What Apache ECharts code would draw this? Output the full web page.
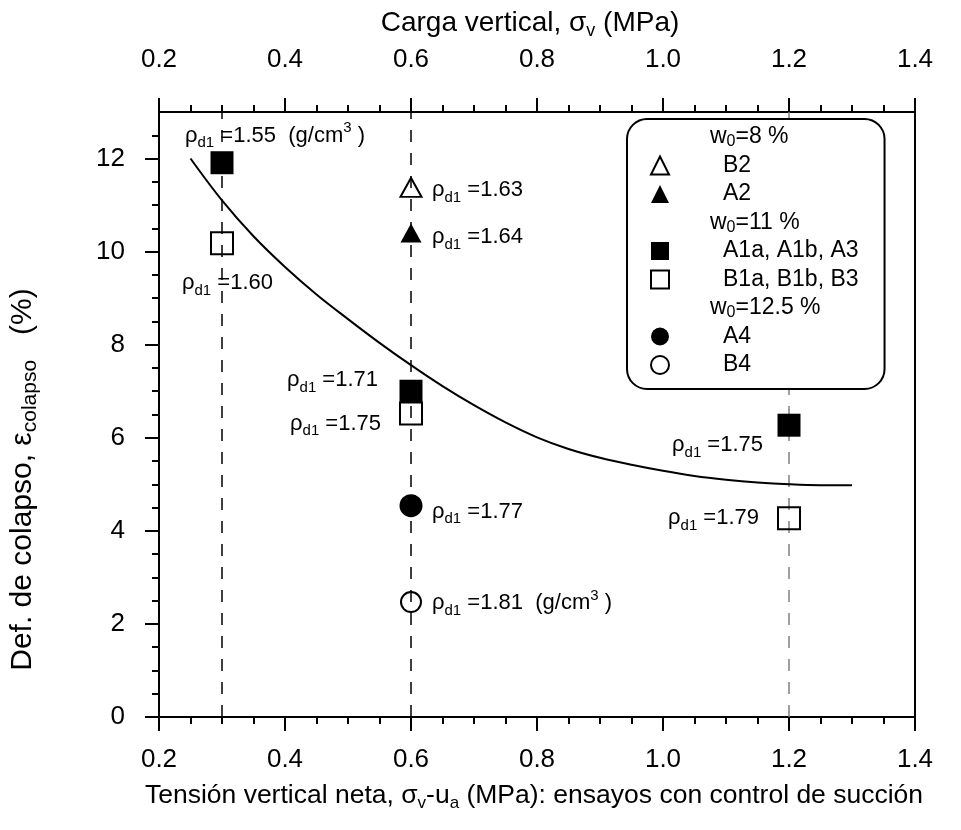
<!DOCTYPE html>
<html><head><meta charset="utf-8">
<script src="https://cdn.jsdelivr.net/npm/echarts@6/dist/echarts.min.js"></script>
<style>html,body{margin:0;padding:0;background:#fff}#c{width:961px;height:830px}</style>
</head><body><div id="c"></div>
<script>
const FONT = '"Liberation Sans", Arial, Helvetica, sans-serif';

// ---- axes / ticks ----
const xMin = 0.2, xMax = 1.4, xStep = 0.2;
const yMin = 0, yMax = 13;
const yMajorTicks = [0, 2, 4, 6, 8, 10, 12];
const yMinorTicks = [0.5, 1, 1.5, 2.5, 3, 3.5, 4.5, 5, 5.5, 6.5, 7, 7.5, 8.5, 9, 9.5, 10.5, 11, 11.5, 12.5];
const dashedX = [0.3, 0.6, 1.2];

// ---- data (w0 = 8 %) ----
const xB2 = [0.6], yB2 = [11.38], rhoB2 = ['1.63'], unitB2 = [0];
const xA2 = [0.6], yA2 = [10.40], rhoA2 = ['1.64'], unitA2 = [0];
// ---- data (w0 = 11 %) ----
const xA1 = [0.3, 0.6, 1.2], yA1 = [11.91, 7.00, 6.27], rhoA1 = ['1.55', '1.71', '1.75'], unitA1 = [1, 0, 0];
const xB1 = [0.3, 0.6, 1.2], yB1 = [10.18, 6.52, 4.27], rhoB1 = ['1.60', '1.75', '1.79'], unitB1 = [0, 0, 0];
// ---- data (w0 = 12.5 %) ----
const xA4 = [0.6], yA4 = [4.54], rhoA4 = ['1.77'], unitA4 = [0];
const xB4 = [0.6], yB4 = [2.47], rhoB4 = ['1.81'], unitB4 = [1];
// ---- fitted curve ----
const curveX = [0.25, 0.30, 0.35, 0.40, 0.45, 0.50, 0.55, 0.60, 0.65, 0.70, 0.75, 0.80, 0.85, 0.90, 0.95, 1.00, 1.05, 1.10, 1.15, 1.20, 1.25, 1.30];
const curveY = [12.00, 11.10, 10.33, 9.67, 9.08, 8.55, 8.04, 7.56, 7.11, 6.70, 6.33, 6.01, 5.76, 5.57, 5.42, 5.29, 5.18, 5.10, 5.04, 5.00, 4.98, 4.98];

// ---- legend ----
const legendNames = ['w0=8 %', 'B2', 'A2', 'w0=11 %', 'A1a, A1b, A3', 'B1a, B1b, B3', 'w0=12.5 %', 'A4', 'B4'];

// label placement (style only): [align, dx, dy]
const posB2 = [['left', 21, 3]];
const posA2 = [['left', 21, 4]];
const posA1 = [['left', -37, -27], ['right', -33, -11], ['right', -26, 20]];
const posB1 = [['left', -40, 40], ['right', -30, 10], ['right', -30, 0]];
const posA4 = [['left', 21, 6]];
const posB4 = [['left', 21, 1]];

const LABEL_RICH = {
  sub: { fontSize: 15, lineHeight: 15, verticalAlign: 'bottom', fontFamily: FONT, color: '#000' },
  sup: { fontSize: 15, lineHeight: 15, verticalAlign: 'top', fontFamily: FONT, color: '#000' }
};

function makeData(xs, ys, rhos, units, pos) {
  return xs.map((x, i) => ({
    value: [x, ys[i]],
    label: {
      show: true, position: 'inside', align: pos[i][0], verticalAlign: 'middle',
      offset: [pos[i][1], pos[i][2]],
      fontSize: 22, lineHeight: 30, fontFamily: FONT, color: '#000',
      formatter: () => 'ρ{sub|d1} =' + rhos[i] + (units[i] ? '  (g/cm{sup|3} )' : ''),
      rich: LABEL_RICH
    }
  }));
}

const filled = { color: '#000', borderWidth: 0, opacity: 1 };
const open = { color: 'rgba(0,0,0,0)', borderColor: '#000', borderWidth: 2, opacity: 1 };

function scatter(name, symbol, size, style, data) {
  return { type: 'scatter', name, symbol, symbolSize: size, itemStyle: style, data, z: 3,
           emphasis: { disabled: true } };
}
function heading(name) {
  return { type: 'scatter', name, symbol: 'rect', itemStyle: { color: 'rgba(0,0,0,0)' }, data: [] };
}

const axisLineStyle = { color: '#000', width: 2 };
const tickLabelStyle = { fontSize: 26, fontFamily: FONT, color: '#000' };
function nameRich(fs, sfs) {
  return {
    n: { fontSize: fs, lineHeight: fs + 6, fontFamily: FONT, color: '#000' },
    s: { fontSize: sfs, lineHeight: sfs, verticalAlign: 'bottom', fontFamily: FONT, color: '#000' }
  };
}

function xAxisCfg(pos, name, nameGap, margin, namePad, fs) {
  return {
    type: 'value', position: pos, min: xMin, max: xMax, interval: xStep,
    axisLine: { show: true, onZero: false, lineStyle: axisLineStyle },
    axisTick: { show: true, length: 14, lineStyle: { color: '#000', width: 2 } },
    minorTick: { show: true, splitNumber: 4, length: 7, lineStyle: { color: '#000', width: 2 } },
    splitLine: { show: false },
    axisLabel: Object.assign({ margin, formatter: v => v.toFixed(1) }, tickLabelStyle),
    name, nameLocation: 'middle', nameGap,
    nameTextStyle: { rich: nameRich(fs, Math.round(fs * 0.65)), padding: namePad }
  };
}

const option = {
  animation: false,
  backgroundColor: '#fff',
  grid: { left: 159, right: 46, top: 112, bottom: 113, outerBoundsMode: 'none' },
  xAxis: [
    xAxisCfg('bottom', '{n|Tensión vertical neta, σ}{s|v}{n|-u}{s|a}{n| (MPa): ensayos con control de succión}', 62, 30, [0, 6, 0, 0], 26.5),
    xAxisCfg('top', '{n|Carga vertical, σ}{s|v}{n| (MPa)}', 72, 39, [0, 14, 0, 0], 28)
  ],
  yAxis: [
    {
      type: 'value', position: 'left', min: yMin, max: yMax,
      axisLine: { show: true, onZero: false, lineStyle: axisLineStyle },
      axisTick: { show: true, length: 14, customValues: yMajorTicks, lineStyle: { color: '#000', width: 2 } },
      axisLabel: Object.assign({ margin: 34, customValues: yMajorTicks }, tickLabelStyle),
      splitLine: { show: false },
      name: '{n|Def. de colapso, ε}{s|colapso}{n|   (%)}', nameLocation: 'middle', nameGap: 118, nameRotate: 90,
      nameTextStyle: { rich: nameRich(30, 21), padding: [0, 130, 0, 0] }
    },
    {
      type: 'value', position: 'left', min: yMin, max: yMax,
      axisLine: { show: true, onZero: false, lineStyle: axisLineStyle },
      axisTick: { show: true, length: 7, customValues: yMinorTicks, lineStyle: { color: '#000', width: 2 } },
      axisLabel: { show: false },
      splitLine: { show: false }
    },
    {
      type: 'value', position: 'right', min: yMin, max: yMax,
      axisLine: { show: true, onZero: false, lineStyle: axisLineStyle },
      axisTick: { show: false }, axisLabel: { show: false }, splitLine: { show: false }
    }
  ],
  legend: {
    orient: 'vertical', left: 627, top: 119, z: 20,
    padding: [5, 26, 11, 23],
    itemWidth: 18, itemHeight: 18, itemGap: 2.5,
    backgroundColor: '#fff',
    borderColor: '#000', borderWidth: 2, borderRadius: 20,
    selectedMode: false,
    data: legendNames.map(n => {
      const icon = n.startsWith('w0=') ? 'rect' : (n[1] === '2' ? 'triangle' : (n.length > 2 ? 'rect' : 'circle'));
      return { name: n, icon };
    }),
    formatter: n => n.startsWith('w0=') ? '{h| }{t|w}{s|0}{t|' + n.slice(2) + '}' : '{g| }{t|' + n + '}',
    textStyle: {
      fontSize: 23, lineHeight: 26, fontFamily: FONT, color: '#000',
      rich: {
        h: { width: 36 }, g: { width: 49 },
        t: { fontSize: 23, lineHeight: 26, fontFamily: FONT, color: '#000' },
        s: { fontSize: 16, lineHeight: 14, verticalAlign: 'bottom', fontFamily: FONT, color: '#000' }
      }
    }
  },
  series: [
    {
      type: 'line', name: 'curve', data: curveX.map((x, i) => [x, curveY[i]]),
      symbol: 'none', smooth: 0.35, lineStyle: { color: '#000', width: 2 }, z: 2,
      emphasis: { disabled: true },
      markLine: {
        silent: true, z: 1, symbol: ['none', 'none'], label: { show: false },
        lineStyle: { color: '#000', width: 1.5, type: [12, 11] },
        data: dashedX.map((x, i) => ({ xAxis: x, lineStyle: { color: i === 2 ? '#808080' : '#000', width: 1.5, type: [12, 11] } }))
      }
    },
    heading('w0=8 %'),
    scatter('B2', 'triangle', [21, 19], open, makeData(xB2, yB2, rhoB2, unitB2, posB2)),
    scatter('A2', 'triangle', [21, 19], filled, makeData(xA2, yA2, rhoA2, unitA2, posA2)),
    heading('w0=11 %'),
    scatter('A1a, A1b, A3', 'rect', 23, filled, makeData(xA1, yA1, rhoA1, unitA1, posA1)),
    scatter('B1a, B1b, B3', 'rect', 22, open, makeData(xB1, yB1, rhoB1, unitB1, posB1)),
    heading('w0=12.5 %'),
    scatter('A4', 'circle', 23, filled, makeData(xA4, yA4, rhoA4, unitA4, posA4)),
    scatter('B4', 'circle', 20, open, makeData(xB4, yB4, rhoB4, unitB4, posB4))
  ]
};

const chart = echarts.init(document.getElementById('c'), null, { renderer: 'canvas' });
chart.setOption(option);
</script>
</body></html>
